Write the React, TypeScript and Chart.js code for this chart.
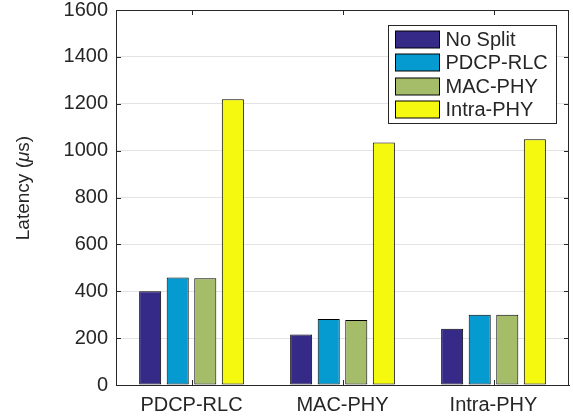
import React, { useEffect, useRef } from "react";
import { Chart, registerables } from "chart.js";

Chart.register(...registerables);

const categories = ["PDCP-RLC", "MAC-PHY", "Intra-PHY"];
const seriesNames = ["No Split", "PDCP-RLC", "MAC-PHY", "Intra-PHY"];
const noSplit = [400, 216, 240];
const pdcpRlc = [459, 282, 300];
const macPhy = [455, 277, 300];
const intraPhy = [1219, 1035, 1049];
const seriesColors = ["#352a87", "#069bd0", "#a5bd69", "#f5f80f"];
const yTicks = [0, 200, 400, 600, 800, 1000, 1200, 1400, 1600];
const yTitleParts = [
  { text: "Latency (", italic: false },
  { text: "μ", italic: true },
  { text: "s)", italic: false },
];

const FONT = "'Liberation Sans', Arial, Helvetica, sans-serif";
const TEXT = "#262626";
const AXIS = "#262626";

const boxPlugin = {
  id: "matlabBox",
  afterDatasetsDraw(chart: any) {
    const { ctx, chartArea } = chart;
    const { left, right, top, bottom } = chartArea;
    const yScale = chart.scales.y;
    const xScale = chart.scales.x;
    ctx.save();
    ctx.strokeStyle = AXIS;
    ctx.lineWidth = 1;
    ctx.beginPath();
    ctx.moveTo(left, Math.round(top) + 0.5);
    ctx.lineTo(right, Math.round(top) + 0.5);
    ctx.moveTo(Math.round(right) - 0.5, top);
    ctx.lineTo(Math.round(right) - 0.5, bottom);
    const tl = 5;
    yTicks.forEach((v) => {
      const y = Math.round(yScale.getPixelForValue(v)) + 0.5;
      ctx.moveTo(left, y);
      ctx.lineTo(left + tl, y);
      ctx.moveTo(right, y);
      ctx.lineTo(right - tl, y);
    });
    categories.forEach((_, i) => {
      const x = Math.round(xScale.getPixelForValue(i)) + 0.5;
      ctx.moveTo(x, bottom);
      ctx.lineTo(x, bottom - tl);
      ctx.moveTo(x, top);
      ctx.lineTo(x, top + tl);
    });
    ctx.stroke();
    ctx.restore();
  },
  afterDraw(chart: any) {
    const { ctx, chartArea } = chart;
    // y-axis title with italic mu
    ctx.save();
    const fontFor = (it: boolean) => `${it ? "italic " : ""}19px ${FONT}`;
    let total = 0;
    const widths = yTitleParts.map((p) => {
      ctx.font = fontFor(p.italic);
      const w = ctx.measureText(p.text).width;
      total += w;
      return w;
    });
    ctx.translate(24, 188);
    ctx.rotate(-Math.PI / 2);
    ctx.fillStyle = TEXT;
    ctx.textBaseline = "middle";
    ctx.textAlign = "left";
    let x = -total / 2;
    yTitleParts.forEach((p, i) => {
      ctx.font = fontFor(p.italic);
      ctx.fillText(p.text, x, 0);
      x += widths[i];
    });
    ctx.restore();

    // legend
    const bx = Math.round(chartArea.right - 181) + 0.5;
    const by = Math.round(chartArea.top + 15) + 0.5;
    const bw = 168;
    const bh = 98;
    ctx.save();
    ctx.fillStyle = "#ffffff";
    ctx.fillRect(bx, by, bw, bh);
    ctx.strokeStyle = AXIS;
    ctx.lineWidth = 1;
    ctx.strokeRect(bx, by, bw, bh);
    ctx.font = `20px ${FONT}`;
    ctx.textBaseline = "middle";
    ctx.textAlign = "left";
    chart.data.datasets.forEach((ds: any, i: number) => {
      const cy = by + 13.5 + i * 23.5;
      ctx.fillStyle = ds.backgroundColor;
      ctx.fillRect(bx + 7, Math.round(cy - 8.5), 44, 17);
      ctx.strokeStyle = "#000000";
      ctx.strokeRect(bx + 7, Math.round(cy - 8.5), 44, 17);
      ctx.fillStyle = TEXT;
      ctx.fillText(ds.label, bx + 57, cy + 1);
    });
    ctx.restore();
  },
};

export default function App() {
  const canvasRef = useRef<HTMLCanvasElement | null>(null);

  useEffect(() => {
    if (!canvasRef.current) return;
    const values = [noSplit, pdcpRlc, macPhy, intraPhy];
    const chart = new Chart(canvasRef.current, {
      type: "bar",
      data: {
        labels: categories,
        datasets: seriesNames.map((name, i) => ({
          label: name,
          data: values[i],
          backgroundColor: seriesColors[i],
          borderColor: "#000000",
          borderWidth: 1,
          borderSkipped: false,
          barPercentage: 0.8,
          categoryPercentage: 0.73,
        })),
      },
      options: {
        animation: false,
        responsive: false,
        maintainAspectRatio: false,
        devicePixelRatio: 1,
        layout: { padding: { left: 0, top: 0, right: 4, bottom: 0 } },
        plugins: {
          legend: { display: false },
          tooltip: { enabled: false },
        },
        scales: {
          x: {
            grid: { display: false, drawTicks: false },
            border: { display: true, color: AXIS, width: 1 },
            ticks: {
              color: TEXT,
              font: { family: FONT, size: 20 },
              padding: 8,
              maxRotation: 0,
            },
            afterFit: (scale: any) => {
              scale.height = 34;
            },
          },
          y: {
            min: 0,
            max: 1600,
            afterBuildTicks: (scale: any) => {
              scale.ticks = yTicks.map((v) => ({ value: v }));
            },
            grid: { color: "#e3e3e3", drawTicks: false, lineWidth: 1 },
            border: { display: true, color: AXIS, width: 1 },
            ticks: {
              color: TEXT,
              font: { family: FONT, size: 20 },
              padding: 8,
              callback: (v: any) => String(v),
            },
            title: { display: false },
            afterFit: (scale: any) => {
              scale.width = 116;
              scale.paddingTop = 10;
            },
          },
        },
      },
      plugins: [boxPlugin],
    });
    return () => chart.destroy();
  }, []);

  return (
    <div style={{ position: "fixed", left: 0, top: 0, width: 573, height: 419, background: "#fff" }}>
      <canvas ref={canvasRef} width={573} height={419} style={{ width: 573, height: 419 }} />
    </div>
  );
}
